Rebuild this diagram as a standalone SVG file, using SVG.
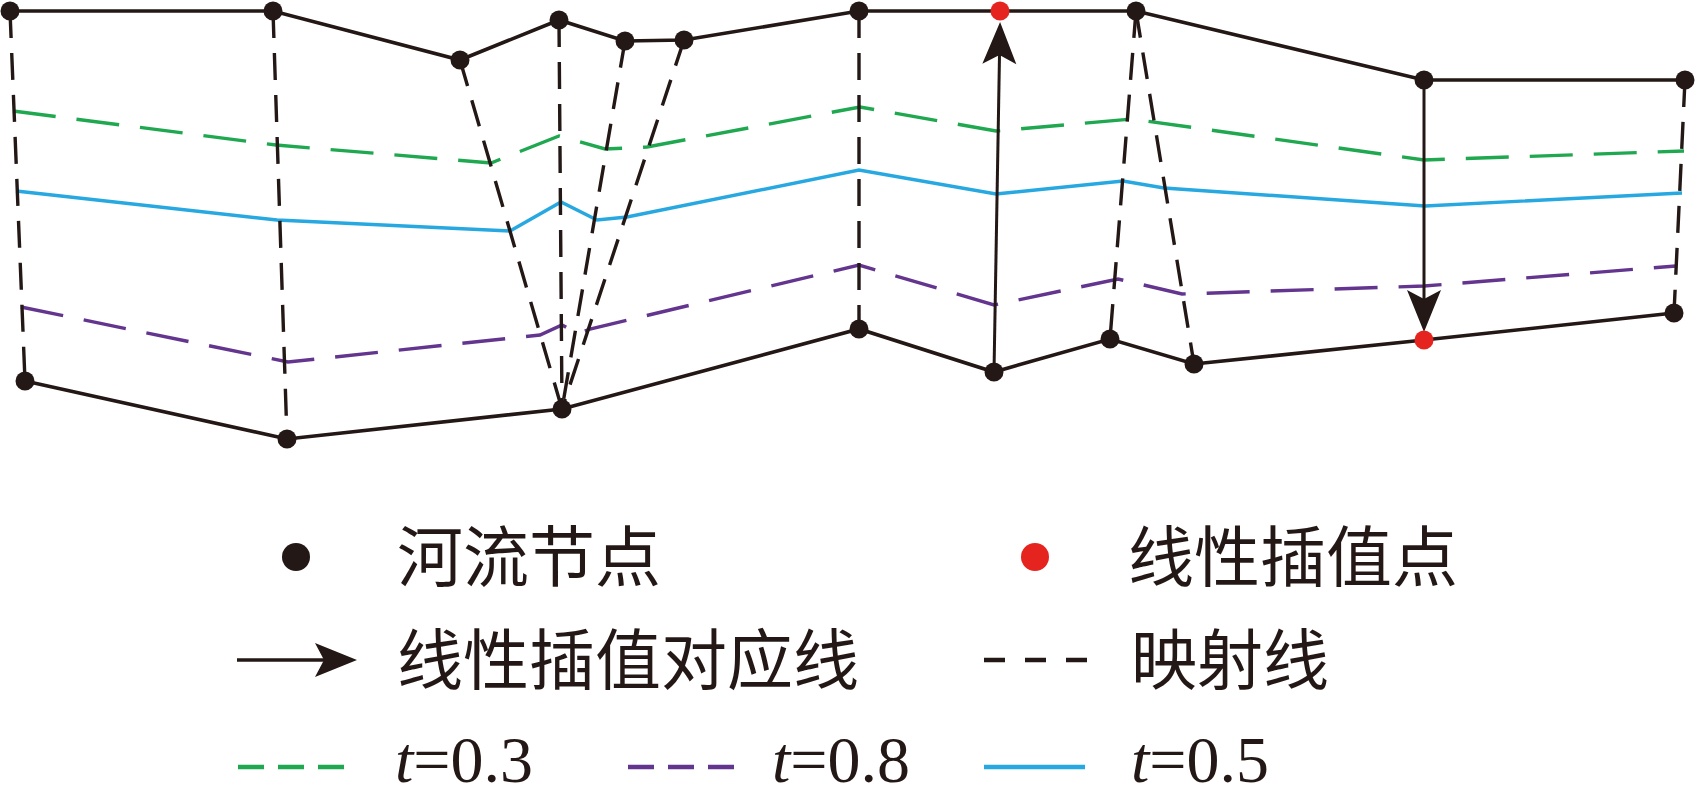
<svg xmlns="http://www.w3.org/2000/svg" width="1697" height="787" viewBox="0 0 1697 787">
<style>
.bd{fill:none;stroke:#231815;stroke-width:3.6;stroke-linejoin:miter}
.map{stroke:#231815;stroke-width:3.4;stroke-dasharray:27 15;fill:none}
.g{fill:none;stroke:#1fa84f;stroke-width:3.4;stroke-dasharray:43 21}
.p{fill:none;stroke:#63358f;stroke-width:3.4;stroke-dasharray:43 21}
.c{fill:none;stroke:#27a8e0;stroke-width:3.4}
.arr{stroke:#231815;stroke-width:3;fill:none;marker-end:url(#ah)}
.n{fill:#231815}
.r{fill:#e52420}
.cjk{font-family:"Noto Sans CJK SC",sans-serif;font-size:66px;fill:#231815}
.lat{font-family:"Liberation Serif","Times New Roman",serif;font-size:66px;fill:#231815}
</style>
<defs>
<marker id="ah" markerUnits="userSpaceOnUse" markerWidth="48" markerHeight="40" viewBox="-12 -20 48 40" refX="0" refY="0" orient="auto">
<path d="M33,0 L-9,-17 L0,0 L-9,17 Z" fill="#231815"/>
</marker>
</defs>
<rect width="1697" height="787" fill="#ffffff"/>
<g id="connectors">
<polyline class="g" points="13,111 276,145 491,163 559,136 605,149 647,147 860,107 996,131 1132,119 1424,160 1684,151"/>
<polyline class="c" points="16,191 277,220 510,231 561,202 597,220 627,217 859,170 996,194 1123,181 1164,188 1425,206 1682,193"/>
<polyline class="p" points="21,307 288,362 540,335 562,325 578,334 590,329 859,265 994,305 1118,279 1182,294 1424,286 1676,266"/>
<line class="map" x1="10" y1="11" x2="25" y2="381"/>
<line class="map" x1="273" y1="11" x2="287" y2="439"/>
<line class="map" x1="460" y1="60" x2="562" y2="409"/>
<line class="map" x1="559" y1="20" x2="562" y2="409"/>
<line class="map" x1="625" y1="41" x2="562" y2="409"/>
<line class="map" x1="684" y1="40" x2="562" y2="409"/>
<line class="map" x1="859" y1="11" x2="859" y2="329"/>
<line class="map" x1="1136" y1="11" x2="1110" y2="339"/>
<line class="map" x1="1136" y1="11" x2="1194" y2="364"/>
<line class="map" x1="1685" y1="80" x2="1674" y2="313"/>
<polyline class="bd" points="10,11 273,11 460,60 559,20 625,41 684,40 859,11 1000,11 1136,11 1424,80 1685,80"/>
<polyline class="bd" points="25,381 287,439 562,409 859,329 994,372 1110,339 1194,364 1424,340 1674,313"/>
<line class="arr" x1="994" y1="372" x2="999.5" y2="55"/>
<line class="arr" x1="1424" y1="80" x2="1424" y2="299"/>
</g>
<g id="node-t1"><circle class="n" cx="10" cy="11" r="9.5"/></g>
<g id="node-t2"><circle class="n" cx="273" cy="11" r="9.5"/></g>
<g id="node-t3"><circle class="n" cx="460" cy="60" r="9.5"/></g>
<g id="node-t4"><circle class="n" cx="559" cy="20" r="9.5"/></g>
<g id="node-t5"><circle class="n" cx="625" cy="41" r="9.5"/></g>
<g id="node-t6"><circle class="n" cx="684" cy="40" r="9.5"/></g>
<g id="node-t7"><circle class="n" cx="859" cy="11" r="9.5"/></g>
<g id="node-t8"><circle class="r" cx="1000" cy="11" r="9.5"/></g>
<g id="node-t9"><circle class="n" cx="1136" cy="11" r="9.5"/></g>
<g id="node-t10"><circle class="n" cx="1424" cy="80" r="9.5"/></g>
<g id="node-t11"><circle class="n" cx="1685" cy="80" r="9.5"/></g>
<g id="node-b1"><circle class="n" cx="25" cy="381" r="9.5"/></g>
<g id="node-b2"><circle class="n" cx="287" cy="439" r="9.5"/></g>
<g id="node-b3"><circle class="n" cx="562" cy="409" r="9.5"/></g>
<g id="node-b4"><circle class="n" cx="859" cy="329" r="9.5"/></g>
<g id="node-b5"><circle class="n" cx="994" cy="372" r="9.5"/></g>
<g id="node-b6"><circle class="n" cx="1110" cy="339" r="9.5"/></g>
<g id="node-b7"><circle class="n" cx="1194" cy="364" r="9.5"/></g>
<g id="node-b8"><circle class="r" cx="1424" cy="340" r="9.5"/></g>
<g id="node-b9"><circle class="n" cx="1674" cy="313" r="9.5"/></g>
<g id="legend">
<circle class="n" cx="296" cy="557" r="14"/>
<text class="cjk" x="397" y="581">河流节点</text>
<circle class="r" cx="1035" cy="557" r="14"/>
<text class="cjk" x="1128" y="581">线性插值点</text>
<line class="arr" x1="237" y1="660" x2="324" y2="660" style="stroke-width:3.6"/>
<text class="cjk" x="397" y="684">线性插值对应线</text>
<line x1="984" y1="660" x2="1087" y2="660" stroke="#231815" stroke-width="4.5" stroke-dasharray="21 20"/>
<text class="cjk" x="1131" y="684">映射线</text>
<line x1="238" y1="767" x2="344" y2="767" stroke="#1fa84f" stroke-width="4.5" stroke-dasharray="26 14"/>
<text class="lat" x="395" y="782"><tspan font-style="italic">t</tspan>=0.3</text>
<line x1="628" y1="767" x2="734" y2="767" stroke="#63358f" stroke-width="4.5" stroke-dasharray="26 14"/>
<text class="lat" x="772" y="782"><tspan font-style="italic">t</tspan>=0.8</text>
<line x1="984" y1="767" x2="1085" y2="767" stroke="#27a8e0" stroke-width="4.5"/>
<text class="lat" x="1131" y="782"><tspan font-style="italic">t</tspan>=0.5</text>
</g>
</svg>
